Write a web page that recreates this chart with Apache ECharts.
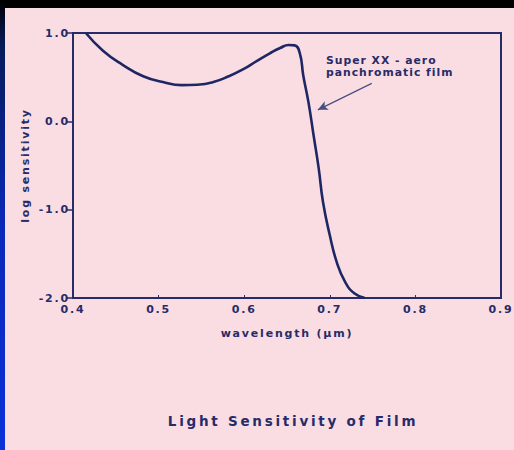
<!DOCTYPE html>
<html>
<head>
<meta charset="utf-8">
<script src="https://cdn.jsdelivr.net/npm/echarts@6/dist/echarts.min.js"></script>
<style>
  html, body { margin: 0; padding: 0; background: #f9dde3; }
  #chart { width: 514px; height: 450px; letter-spacing: 1.8px; }
  #chart text[style*="13.5px"] { letter-spacing: 2.75px; }
  #chart text[style*="10.8px"] { letter-spacing: 1px; }
</style>
</head>
<body>
<div id="chart"></div>
<script>
// Data
const wavelength = [0.415, 0.435, 0.458, 0.482, 0.505, 0.527, 0.545, 0.564, 0.582, 0.599, 0.615, 0.630, 0.642, 0.652, 0.659, 0.665, 0.669, 0.675, 0.681, 0.687, 0.692, 0.700, 0.708, 0.718, 0.729, 0.741];
const sensitivity = [1.00, 0.80, 0.64, 0.51, 0.445, 0.41, 0.415, 0.445, 0.51, 0.59, 0.685, 0.77, 0.83, 0.864, 0.86, 0.77, 0.52, 0.22, -0.155, -0.53, -0.91, -1.29, -1.59, -1.82, -1.95, -2.00];
const xTicks = [0.4, 0.5, 0.6, 0.7, 0.8, 0.9];
const yTicks = [1.0, 0.0, -1.0, -2.0];
const arrowStart = [0.749, 0.43];
const arrowEnd = [0.686, 0.13];
const seriesLabel = 'Super XX - aero\npanchromatic film';
const chartTitle = 'Light Sensitivity of Film';
const xName = 'wavelength (μm)';
const yName = 'log sensitivity';

const ink = '#272b68';
const font = 'DejaVu Sans';

const chart = echarts.init(document.getElementById('chart'), null, { renderer: 'svg' });
chart.setOption({
  backgroundColor: '#f9dde3',
  animation: false,
  title: [
    {
      text: chartTitle,
      left: 288, top: 409, textAlign: 'center',
      textStyle: { fontFamily: font, fontWeight: 'bold', fontSize: 13.5, color: ink }
    },
    {
      text: seriesLabel,
      left: 326, top: 54, padding: 0,
      textStyle: { fontFamily: font, fontWeight: 'bold', fontSize: 10.8, color: ink, lineHeight: 12.5 }
    }
  ],
  graphic: [
    {
      type: 'rect', left: 0, top: 0, silent: true,
      shape: { width: 514, height: 8 },
      style: { fill: '#000000' }
    },
    {
      type: 'rect', left: 0, top: 0, silent: true,
      shape: { width: 5, height: 450 },
      style: {
        fill: new echarts.graphic.LinearGradient(0, 0, 0, 1, [
          { offset: 0, color: '#000000' },
          { offset: 0.1, color: '#061a5a' },
          { offset: 0.5, color: '#0a28b8' },
          { offset: 1, color: '#0a30d8' }
        ])
      }
    }
  ],
  grid: {
    left: 73, right: 13, top: 33, bottom: 152,
    show: true, borderColor: ink, borderWidth: 2, backgroundColor: 'transparent'
  },
  xAxis: {
    type: 'value', min: 0.4, max: 0.9, interval: 0.1,
    name: xName, nameLocation: 'middle', nameGap: 30,
    nameTextStyle: { fontFamily: font, fontWeight: 'bold', fontSize: 11, color: ink },
    axisLine: { show: true, onZero: false, lineStyle: { color: ink, width: 2 } },
    axisTick: { show: true, inside: true, length: 3, lineStyle: { color: ink, width: 1 } },
    splitLine: { show: false },
    axisLabel: {
      margin: 6, fontFamily: font, fontWeight: 'bold', fontSize: 11, color: ink,
      formatter: v => xTicks.find(t => Math.abs(t - v) < 1e-9).toFixed(1)
    }
  },
  yAxis: {
    type: 'value', min: -2, max: 1, interval: 1,
    name: yName, nameLocation: 'middle', nameGap: 42, nameRotate: 90,
    nameTextStyle: { fontFamily: font, fontWeight: 'bold', fontSize: 11, color: ink },
    axisLine: { show: true, onZero: false, lineStyle: { color: ink, width: 2 } },
    axisTick: { show: true, inside: false, length: 6, lineStyle: { color: ink, width: 1.5 } },
    splitLine: { show: false },
    axisLabel: {
      margin: 3, fontFamily: font, fontWeight: 'bold', fontSize: 11, color: ink,
      formatter: v => yTicks.find(t => Math.abs(t - v) < 1e-9).toFixed(1)
    }
  },
  series: [{
    type: 'line',
    data: wavelength.map((w, i) => [w, sensitivity[i]]),
    smooth: 0.5,
    showSymbol: false,
    lineStyle: { color: '#1e2764', width: 2.6 },
    markLine: {
      silent: true,
      symbol: ['none', 'arrow'],
      symbolSize: [7, 10],
      label: { show: false },
      lineStyle: { color: '#4a4f80', width: 1.2, type: 'solid' },
      data: [[{ coord: arrowStart }, { coord: arrowEnd }]]
    }
  }]
});
</script>
</body>
</html>
